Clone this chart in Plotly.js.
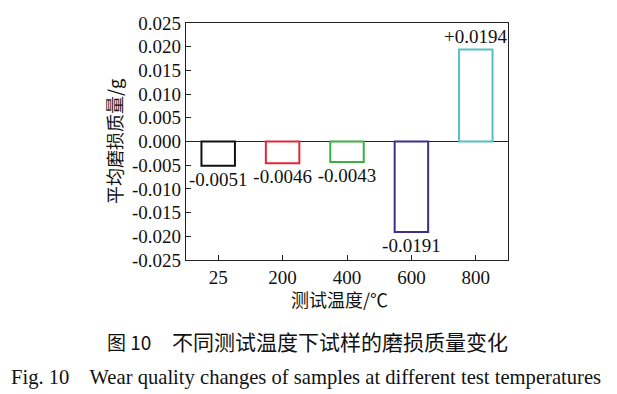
<!DOCTYPE html>
<html>
<head>
<meta charset="utf-8">
<script src="https://cdn.plot.ly/plotly-3.0.1.min.js"></script>
<style>html,body{margin:0;padding:0;background:#fff;}#chart{width:617px;height:394px;}</style>
</head>
<body>
<div id="chart"></div>
<script>
const categories = ['25', '200', '400', '600', '800'];
const values = [-0.0051, -0.0046, -0.0043, -0.0191, 0.0194];
const valueLabels = ['-0.0051', '-0.0046', '-0.0043', '-0.0191', '+0.0194'];
const barColors = ['#111111', '#e0283a', '#3cb043', '#3b2f8f', '#55c0c0'];
const yTickVals = [0.025, 0.020, 0.015, 0.010, 0.005, 0.000, -0.005, -0.010, -0.015, -0.020, -0.025];
const yTickText = ['0.025', '0.020', '0.015', '0.010', '0.005', '0.000', '-0.005', '-0.010', '-0.015', '-0.020', '-0.025'];

const serif = 'Liberation Serif, Times New Roman, serif';
const cjk = 'Noto Sans CJK SC, sans-serif';

const trace = {
  type: 'bar',
  x: categories,
  y: values,
  text: valueLabels,
  textposition: 'outside',
  constraintext: 'none',
  textfont: {family: serif, size: 19, color: '#111'},
  cliponaxis: false,
  marker: {color: 'rgba(255,255,255,0)', line: {color: barColors, width: 2}},
  hoverinfo: 'none'
};

const pw = 617 - 186 - 109, ph = 394 - 23 - 134;
function px(xp) { return (xp - 186) / pw; }
function py(yp) { return (23 + ph - yp) / ph; }

const layout = {
  width: 617, height: 394,
  margin: {l: 186, r: 109, t: 23, b: 134},
  paper_bgcolor: '#fff', plot_bgcolor: '#fff',
  showlegend: false,
  bargap: 0.48,
  font: {family: serif, size: 19, color: '#111'},
  xaxis: {
    type: 'category',
    range: [-0.5, 4.5],
    showline: true, mirror: true, linecolor: '#222', linewidth: 1.2,
    ticks: 'inside', ticklen: 5, tickcolor: '#222',
    showgrid: false, zeroline: false,
    tickfont: {family: serif, size: 19, color: '#111'}
  },
  yaxis: {
    range: [-0.025, 0.025],
    tickvals: yTickVals, ticktext: yTickText,
    showline: true, mirror: true, linecolor: '#222', linewidth: 1.2,
    ticks: 'inside', ticklen: 5, tickcolor: '#222',
    showgrid: false,
    zeroline: true, zerolinecolor: '#222', zerolinewidth: 1,
    tickfont: {family: serif, size: 19, color: '#111'},
    title: {text: '平均磨损质量/g', font: {family: cjk, size: 18, color: '#111'}, standoff: 4}
  },
  annotations: [
    {text: '测试温度/℃', x: px(339), y: py(299), xref: 'paper', yref: 'paper', showarrow: false,
     xanchor: 'center', yanchor: 'middle', font: {family: cjk, size: 18, color: '#111'}},
    {text: '图 10', x: px(105), y: py(341), xref: 'paper', yref: 'paper', showarrow: false,
     xanchor: 'left', yanchor: 'middle', font: {family: cjk, size: 19, color: '#111'}},
    {text: '不同测试温度下试样的磨损质量变化', x: px(170), y: py(341), xref: 'paper', yref: 'paper', showarrow: false,
     xanchor: 'left', yanchor: 'middle', font: {family: cjk, size: 21, color: '#111'}},
    {text: 'Fig. 10    Wear quality changes of samples at different test temperatures', x: px(9), y: py(377), xref: 'paper', yref: 'paper', showarrow: false,
     xanchor: 'left', yanchor: 'middle', font: {family: serif, size: 20.6, color: '#111'}}
  ]
};

Plotly.newPlot('chart', [trace], layout, {displayModeBar: false, staticPlot: true});
</script>
</body>
</html>
